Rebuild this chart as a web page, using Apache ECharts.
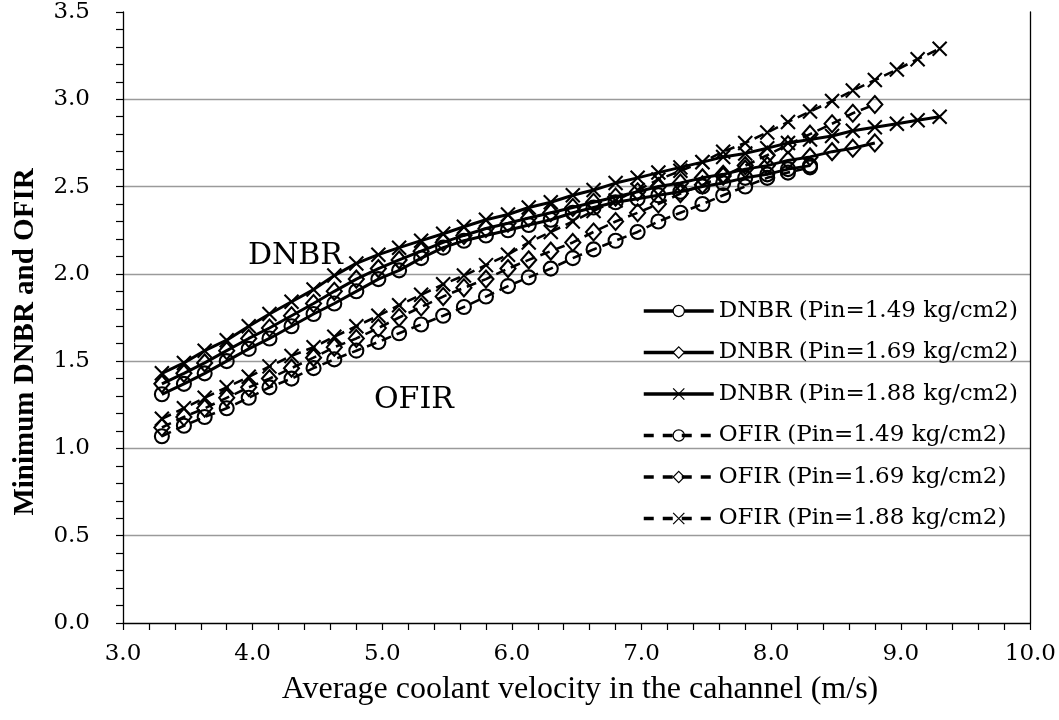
<!DOCTYPE html>
<html>
<head>
<meta charset="utf-8">
<script src="https://cdn.jsdelivr.net/npm/echarts@6/dist/echarts.min.js"></script>
<style>html,body{margin:0;padding:0;background:#fff}#c{width:1059px;height:720px}</style>
</head>
<body>
<div id="c"></div>
<script>
// Average coolant velocity (m/s), shared by all series (each series uses the first N points)
const velocity = [3.30,3.47,3.63,3.80,3.97,4.13,4.30,4.47,4.63,4.80,4.97,5.13,5.30,5.47,5.63,5.80,5.97,6.13,6.30,6.47,6.63,6.80,6.97,7.13,7.30,7.47,7.63,7.80,7.97,8.13,8.30,8.47,8.63,8.80,8.97,9.13,9.30];

const dnbr149 = [1.31,1.37,1.43,1.50,1.57,1.63,1.70,1.77,1.83,1.90,1.97,2.02,2.09,2.15,2.19,2.22,2.25,2.28,2.31,2.35,2.38,2.41,2.43,2.45,2.47,2.50,2.52,2.55,2.57,2.60,2.62];
const dnbr169 = [1.37,1.43,1.49,1.56,1.63,1.69,1.76,1.83,1.90,1.97,2.03,2.08,2.13,2.18,2.22,2.26,2.29,2.32,2.35,2.38,2.41,2.44,2.47,2.50,2.52,2.55,2.57,2.60,2.62,2.65,2.67,2.70,2.72,2.75];
const dnbr188 = [1.43,1.49,1.56,1.62,1.70,1.77,1.84,1.91,1.99,2.06,2.11,2.15,2.19,2.23,2.27,2.31,2.34,2.38,2.41,2.45,2.48,2.52,2.55,2.58,2.61,2.64,2.67,2.69,2.72,2.75,2.77,2.79,2.82,2.84,2.86,2.88,2.90];
const ofir149 = [1.07,1.13,1.18,1.23,1.29,1.35,1.40,1.46,1.51,1.56,1.61,1.66,1.71,1.76,1.81,1.87,1.93,1.98,2.03,2.09,2.14,2.19,2.24,2.30,2.35,2.40,2.45,2.50,2.55,2.58,2.61];
const ofir169 = [1.12,1.18,1.23,1.29,1.35,1.40,1.46,1.52,1.58,1.63,1.69,1.75,1.81,1.87,1.92,1.97,2.03,2.08,2.13,2.18,2.24,2.30,2.35,2.40,2.46,2.51,2.56,2.62,2.68,2.74,2.80,2.86,2.92,2.97];
const ofir188 = [1.17,1.23,1.29,1.35,1.41,1.47,1.53,1.58,1.64,1.70,1.76,1.82,1.88,1.94,1.99,2.05,2.11,2.18,2.24,2.30,2.36,2.42,2.48,2.54,2.59,2.64,2.70,2.75,2.81,2.87,2.93,2.99,3.05,3.11,3.17,3.23,3.29];

const seriesNames = [
  'DNBR (Pin=1.49 kg/cm2)','DNBR (Pin=1.69 kg/cm2)','DNBR (Pin=1.88 kg/cm2)',
  'OFIR (Pin=1.49 kg/cm2)','OFIR (Pin=1.69 kg/cm2)','OFIR (Pin=1.88 kg/cm2)'
];
const seriesValues = [dnbr149, dnbr169, dnbr188, ofir149, ofir169, ofir188];
const xTicks = {min: 3, max: 10, step: 1};
const yTicks = {min: 0, max: 3.5, step: 0.5};
const annotations = ['DNBR', 'OFIR'];
const xTitle = 'Average coolant velocity in the cahannel (m/s)';
const yTitle = 'Minimum DNBR and OFIR';

const crossPath = 'path://M0,0L10,10M10,0L0,10';
const symbols = ['circle', 'diamond', crossPath, 'circle', 'diamond', crossPath];
const symbolSizes = [14, [15,17], 14, 14, [15,17], 14];
const serifFont = 'DejaVu Serif';

function pairs(vals){ return vals.map((v,i)=>[velocity[i], v]); }

const series = seriesValues.map((vals, i) => {
  const dashed = i >= 3;
  return {
    name: seriesNames[i],
    type: 'line',
    data: pairs(vals),
    symbol: symbols[i],
    symbolSize: symbolSizes[i],
    showAllSymbol: true,
    lineStyle: {color: '#000', width: dashed ? 2.6 : 3, type: dashed ? [10,6] : 'solid'},
    itemStyle: {color: 'rgba(0,0,0,0)', borderColor: '#000', borderWidth: 2.1},
    emphasis: {disabled: true},
    z: dashed ? 3 : 4
  };
});

const chart = echarts.init(document.getElementById('c'), null, {renderer: 'canvas'});
chart.setOption({
  animation: false,
  backgroundColor: '#fff',
  grid: {left: 123, right: 28, top: 12, bottom: 97, containLabel: false},
  xAxis: {
    type: 'value', min: xTicks.min, max: xTicks.max, interval: xTicks.step,
    axisLine: {show: true, onZero: false, lineStyle: {color: '#000', width: 1.3}},
    axisTick: {show: true, inside: false, length: 7, lineStyle: {color: '#000', width: 1.2}},
    minorTick: {show: true, splitNumber: 5, length: 7, lineStyle: {color: '#000', width: 1.2}},
    splitLine: {show: false},
    axisLabel: {margin: 20, color: '#000', fontFamily: serifFont, fontSize: 23, formatter: v => v.toFixed(1)}
  },
  yAxis: [{
    type: 'value', min: yTicks.min, max: yTicks.max, interval: yTicks.step,
    axisLine: {show: true, onZero: false, lineStyle: {color: '#000', width: 1.3}},
    axisTick: {show: true, inside: false, length: 7, lineStyle: {color: '#000', width: 1.2}},
    minorTick: {show: true, splitNumber: 5, length: 7, lineStyle: {color: '#000', width: 1.2}},
    splitLine: {show: true, showMinLine: false, showMaxLine: false, lineStyle: {color: '#9a9a9a', width: 1.3}},
    axisLabel: {margin: 33, color: '#000', fontFamily: serifFont, fontSize: 23, formatter: v => v.toFixed(1)}
  }, {
    type: 'value', position: 'right', min: yTicks.min, max: yTicks.max, interval: yTicks.step,
    axisLine: {show: true, lineStyle: {color: '#000', width: 1.3}},
    axisTick: {show: false}, axisLabel: {show: false}, splitLine: {show: false}
  }],
  legend: {
    orient: 'vertical', left: 637, top: 294,
    itemWidth: 70, itemHeight: 14, itemGap: 17.5,
    textStyle: {color: '#000', fontFamily: serifFont, fontSize: 23, lineHeight: 24},
    data: seriesNames.map((n, i) => ({
      name: n,
      itemStyle: i < 3 ? {color: '#fff', borderWidth: 1.2} : {borderWidth: 1.2},
      lineStyle: i < 3 ? {width: 3.5} : {width: 3.5, type: [10, 9]}
    }))
  },
  graphic: [
    {type: 'text', left: 248, top: 241, style: {text: annotations[0], fill: '#000', font: '30px "DejaVu Serif"'}},
    {type: 'text', left: 374, top: 385, style: {text: annotations[1], fill: '#000', font: '30px "DejaVu Serif"'}},
    {type: 'text', x: 580, y: 690, style: {text: xTitle, fill: '#000', font: '32px "Liberation Serif"', textAlign: 'center', textVerticalAlign: 'middle'}},
    {type: 'text', x: 26, y: 342, rotation: Math.PI / 2, style: {text: yTitle, fill: '#000', font: 'bold 29px "Liberation Serif"', textAlign: 'center', textVerticalAlign: 'middle'}}
  ],
  series: series
});
</script>
</body>
</html>
